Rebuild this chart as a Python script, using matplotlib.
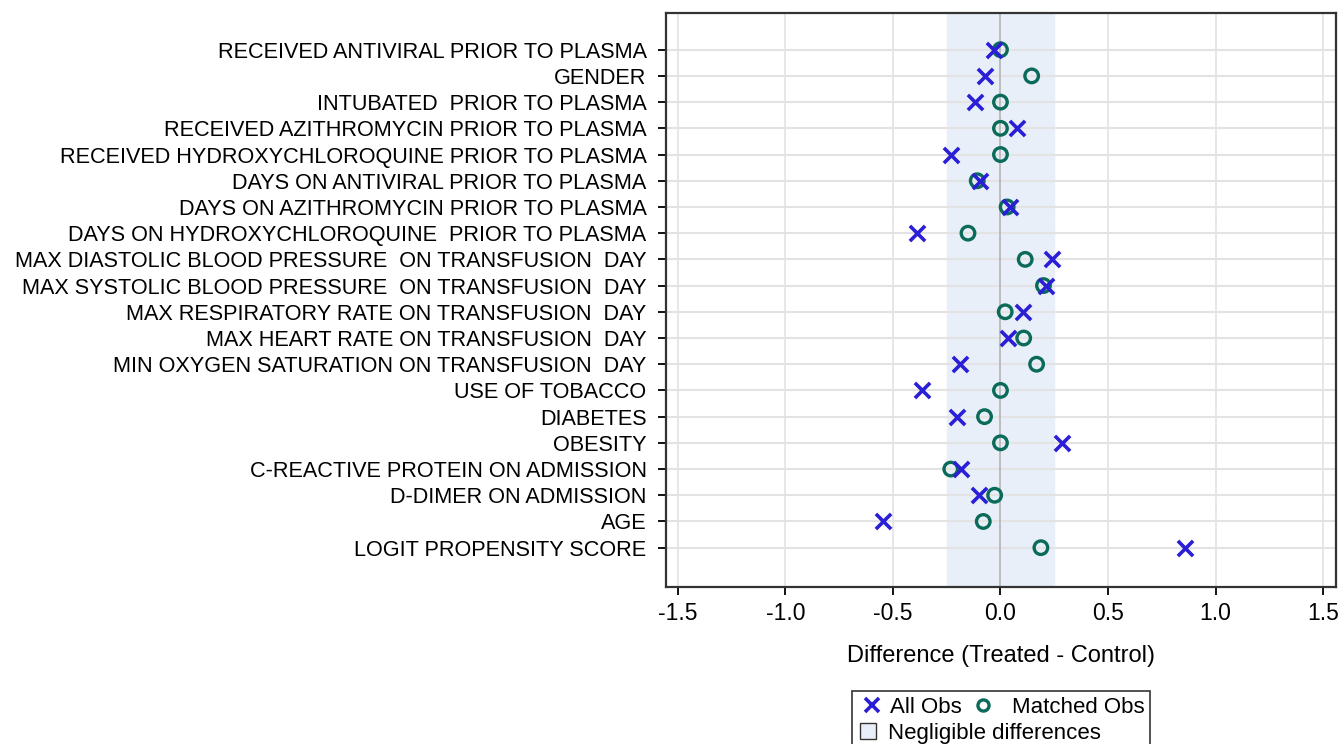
import numpy as np
import matplotlib
matplotlib.use("Agg")
import matplotlib.pyplot as plt
from matplotlib.lines import Line2D
from matplotlib.patches import Patch, Rectangle

plt.rcParams['font.family'] = ['Liberation Sans', 'DejaVu Sans']

# covariates, top to bottom
labels = [
    "RECEIVED ANTIVIRAL PRIOR TO PLASMA",
    "GENDER",
    "INTUBATED  PRIOR TO PLASMA",
    "RECEIVED AZITHROMYCIN PRIOR TO PLASMA",
    "RECEIVED HYDROXYCHLOROQUINE PRIOR TO PLASMA",
    "DAYS ON ANTIVIRAL PRIOR TO PLASMA",
    "DAYS ON AZITHROMYCIN PRIOR TO PLASMA",
    "DAYS ON HYDROXYCHLOROQUINE  PRIOR TO PLASMA",
    "MAX DIASTOLIC BLOOD PRESSURE  ON TRANSFUSION  DAY",
    "MAX SYSTOLIC BLOOD PRESSURE  ON TRANSFUSION  DAY",
    "MAX RESPIRATORY RATE ON TRANSFUSION  DAY",
    "MAX HEART RATE ON TRANSFUSION  DAY",
    "MIN OXYGEN SATURATION ON TRANSFUSION  DAY",
    "USE OF TOBACCO",
    "DIABETES",
    "OBESITY",
    "C-REACTIVE PROTEIN ON ADMISSION",
    "D-DIMER ON ADMISSION",
    "AGE",
    "LOGIT PROPENSITY SCORE",
]
all_obs = [-0.03, -0.07, -0.12, 0.076, -0.23, -0.096, 0.043, -0.387, 0.239, 0.213,
           0.106, 0.033, -0.186, -0.364, -0.204, 0.286, -0.182, -0.10, -0.544, 0.859]
matched_obs = [0.0, 0.145, 0.0, 0.0, 0.0, -0.108, 0.031, -0.151, 0.115, 0.20,
               0.022, 0.108, 0.168, 0.0, -0.074, 0.0, -0.231, -0.027, -0.08, 0.188]
negligible = 0.25
xticks = [-1.5, -1.0, -0.5, 0.0, 0.5, 1.0, 1.5]

blue = '#2a1ed6'
green = '#0b6b5a'
band = '#e8eff9'

W, H = 1341, 744
fig = plt.figure(figsize=(W/100, H/100), dpi=100)
ax = fig.add_axes([666/W, 1-587/H, 670/W, 574/H])

y = np.arange(len(labels))
ax.axvspan(-negligible, negligible, color=band, zorder=0)
for yy in y:
    ax.axhline(yy, color='#e3e3e3', lw=1.5, zorder=1)
for xx in xticks:
    ax.axvline(xx, color='#e3e3e3', lw=1.2, zorder=1)
ax.axvline(0, color='#b5b5b5', lw=1.2, zorder=1)

ax.scatter(matched_obs, y, marker='o', s=95, facecolors='none', edgecolors=green,
           linewidths=2.4, zorder=3)
ax.scatter(all_obs, y, marker='x', s=120, color=blue, linewidths=2.6, zorder=4)

ax.set_yticks(y)
ax.set_yticklabels(labels, fontsize=15.6)
ax.set_ylim(len(labels) - 1 + 1.5, -1.4)
ax.set_xlim(-1.555, 1.56)
ax.set_xticks(xticks)
ax.set_xticklabels([f"{v:.1f}" for v in xticks], fontsize=16.5)
ax.tick_params(axis='both', direction='out', length=6, width=1.3, pad=5)
ax.tick_params(axis='y', pad=8)
ax.set_xlabel("Difference (Treated - Control)", fontsize=17, labelpad=14)
for s in ax.spines.values():
    s.set_linewidth(1.6)
    s.set_color('#333333')

# legend, built from three small legends inside one frame
h_x = Line2D([], [], marker='x', color=blue, lw=0, markersize=10, markeredgewidth=2.6)
h_o = Line2D([], [], marker='o', color=green, lw=0, markersize=8, markerfacecolor='none',
             markeredgewidth=2.4)
h_p = Patch(facecolor=band, edgecolor='#333333', lw=1)

common = dict(loc='upper left', frameon=False, fontsize=16, borderpad=0, borderaxespad=0)
fig.legend([h_x], ["All Obs"], bbox_to_anchor=(862/W, 1-697/H),
           handlelength=0.9, handletextpad=0.36, **common)
fig.legend([h_o], ["Matched Obs"], bbox_to_anchor=(973/W, 1-697/H),
           handlelength=0.9, handletextpad=0.85, **common)
fig.legend([h_p], ["Negligible differences"], bbox_to_anchor=(860/W, 1-723/H),
           handlelength=0.7, handleheight=0.7, handletextpad=0.55, **common)
fig.add_artist(Rectangle((852/W, -0.02), 298/W, (0.02 + 1-691/H),
                         transform=fig.transFigure, fill=False, edgecolor='#333333', lw=1.2))

fig.savefig("out.png", dpi=100)
